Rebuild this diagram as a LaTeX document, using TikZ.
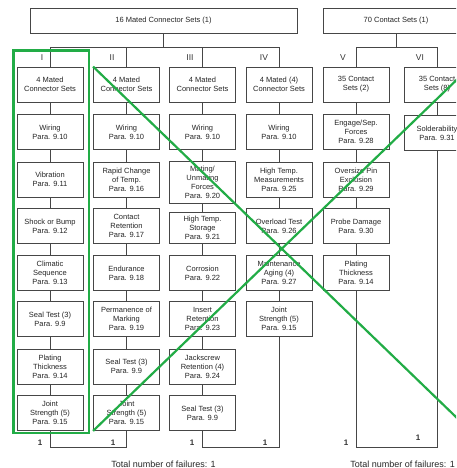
\documentclass[tikz,border=0pt]{standalone}
\usepackage{fontspec}
\setmainfont{Liberation Sans}
\usepackage{xcolor}
\definecolor{mark}{RGB}{34,172,70}
\definecolor{frame}{RGB}{70,70,70}

\begin{document}
\begin{tikzpicture}[x=1pt,y=-1pt,
		box/.style={draw=frame,fill=white,line width=0.8pt,minimum width=66pt,minimum height=35pt,inner sep=1pt,align=center,font=\fontsize{7.5}{9}\selectfont,text=black!85},
		head/.style={box,minimum height=25pt},
		group/.style={font=\fontsize{8.5}{9}\selectfont,text=black!80},
		count/.style={font=\bfseries\fontsize{8}{9}\selectfont,text=black!80},
		total/.style={font=\fontsize{9}{10}\selectfont,text=black!85},
		link/.style={draw=frame,line width=0.8pt},
		cross/.style={draw=mark,line width=2.2pt}]
			\useasboundingbox (0,0) rectangle (456,468);
			\clip (0,0) rectangle (456,468);
			
			\coordinate (h1) at (163.5,47);
			\coordinate (h2) at (396,47);
			\coordinate (b1) at (50,447);
			\coordinate (b2) at (126.5,447);
			\coordinate (b3) at (202.5,447);
			\coordinate (b4) at (279,447);
			\coordinate (b5) at (356,447);
			\coordinate (b6) at (437,447);
			
			% sample sets
			\node[head, minimum width=267pt] (t1) at (163.5,20.5) {16 Mated Connector Sets (1)};
			\node[head, minimum width=146pt] (t2) at (396,20.5) {70 Contact Sets (1)};
			
			% group I
			\node[box] (c1r1) at (50,84.5) {4 Mated\\Connector Sets};
			\node[box] (c1r2) at (50,132) {Wiring\\Para. 9.10};
			\node[box] (c1r3) at (50,179.5) {Vibration\\Para. 9.11};
			\node[box] (c1r4) at (50,226) {Shock or Bump\\Para. 9.12};
			\node[box] (c1r5) at (50,273) {Climatic\\Sequence\\Para. 9.13};
			\node[box] (c1r6) at (50,319) {Seal Test (3)\\Para. 9.9};
			\node[box] (c1r7) at (50,366.5) {Plating\\Thickness\\Para. 9.14};
			\node[box] (c1r8) at (50,413) {Joint\\Strength (5)\\Para. 9.15};
			
			% group II
			\node[box] (c2r1) at (126.5,84.5) {4 Mated\\Connector Sets};
			\node[box] (c2r2) at (126.5,132) {Wiring\\Para. 9.10};
			\node[box] (c2r3) at (126.5,179.5) {Rapid Change\\of Temp.\\Para. 9.16};
			\node[box] (c2r4) at (126.5,226) {Contact\\Retention\\Para. 9.17};
			\node[box] (c2r5) at (126.5,273) {Endurance\\Para. 9.18};
			\node[box] (c2r6) at (126.5,319) {Permanence of\\Marking\\Para. 9.19};
			\node[box] (c2r7) at (126.5,366.5) {Seal Test (3)\\Para. 9.9};
			\node[box] (c2r8) at (126.5,413) {Joint\\Strength (5)\\Para. 9.15};
			
			% group III
			\node[box] (c3r1) at (202.5,84.5) {4 Mated\\Connector Sets};
			\node[box] (c3r2) at (202.5,132) {Wiring\\Para. 9.10};
			\node[box, minimum height=42pt] (c3r3) at (202.5,182) {Mating/\\Unmating\\Forces\\Para. 9.20};
			\node[box, minimum height=31pt] (c3r4) at (202.5,228) {High Temp.\\Storage\\Para. 9.21};
			\node[box] (c3r5) at (202.5,273) {Corrosion\\Para. 9.22};
			\node[box] (c3r6) at (202.5,319) {Insert\\Retention\\Para. 9.23};
			\node[box] (c3r7) at (202.5,366.5) {Jackscrew\\Retention (4)\\Para. 9.24};
			\node[box] (c3r8) at (202.5,413) {Seal Test (3)\\Para. 9.9};
			
			% group IV
			\node[box] (c4r1) at (279,84.5) {4 Mated (4)\\Connector Sets};
			\node[box] (c4r2) at (279,132) {Wiring\\Para. 9.10};
			\node[box] (c4r3) at (279,179.5) {High Temp.\\Measurements\\Para. 9.25};
			\node[box] (c4r4) at (279,226) {Overload Test\\Para. 9.26};
			\node[box] (c4r5) at (279,273) {Maintenance\\Aging (4)\\Para. 9.27};
			\node[box] (c4r6) at (279,319) {Joint\\Strength (5)\\Para. 9.15};
			
			% group V
			\node[box] (c5r1) at (356,84.5) {35 Contact\\Sets (2)};
			\node[box] (c5r2) at (356,132) {Engage/Sep.\\Forces\\Para. 9.28};
			\node[box] (c5r3) at (356,179.5) {Oversize Pin\\Exclusion\\Para. 9.29};
			\node[box] (c5r4) at (356,226) {Probe Damage\\Para. 9.30};
			\node[box] (c5r5) at (356,273) {Plating\\Thickness\\Para. 9.14};
			
			% group VI
			\node[box] (c6r1) at (437,84.5) {35 Contact\\Sets (8)};
			\node[box] (c6r2) at (437,133) {Solderability\\Para. 9.31};
			
			% group numbers
			\node[group] (g1) at (42,58) {I};
			\node[group] (g2) at (112,58) {II};
			\node[group] (g3) at (190,58) {III};
			\node[group] (g4) at (264,58) {IV};
			\node[group] (g5) at (343,58) {V};
			\node[group] (g6) at (420,58) {VI};
			
			% failures
			\node[count] (f1) at (40,443) {1};
			\node[count] (f2) at (113,443) {1};
			\node[count] (f3) at (192,443) {1};
			\node[count] (f4) at (265,443) {1};
			\node[count] (f5) at (346,443) {1};
			\node[count] (f6) at (418,438) {1};
			\node[total] (n1) at (163.5,464) {Total number of failures: 1};
			\node[total, anchor=east, inner sep=0.5pt] (n2) at (455.5,464) {Total number of failures: 1};
			
			\draw[link] (t1) -- (h1);
			\draw[link] (c1r1) |- (h1);
			\draw[link] (c4r1) |- (h1);
			\draw[link] (c2r1) -- (c2r1 |- h1);
			\draw[link] (c3r1) -- (c3r1 |- h1);
			\draw[link] (t2) -- (h2);
			\draw[link] (c5r1) |- (h2);
			\draw[link] (c6r1) |- (h2);
			
			\draw[link] (c1r1) -- (c1r2) -- (c1r3) -- (c1r4) -- (c1r5) -- (c1r6) -- (c1r7) -- (c1r8);
			\draw[link] (c2r1) -- (c2r2) -- (c2r3) -- (c2r4) -- (c2r5) -- (c2r6) -- (c2r7) -- (c2r8);
			\draw[link] (c3r1) -- (c3r2) -- (c3r3) -- (c3r4) -- (c3r5) -- (c3r6) -- (c3r7) -- (c3r8);
			\draw[link] (c4r1) -- (c4r2) -- (c4r3) -- (c4r4) -- (c4r5) -- (c4r6);
			\draw[link] (c5r1) -- (c5r2) -- (c5r3) -- (c5r4) -- (c5r5);
			\draw[link] (c6r1) -- (c6r2);
			
			\draw[link] (c1r8) -- (b1) -- (b2) -- (c2r8);
			\draw[link] (c3r8) -- (b3) -- (b4) -- (c4r6);
			\draw[link] (c5r5) -- (b5) -- (b6) -- (c6r2);
			
			% marks
			\coordinate (xend) at (c6r1.east |- c2r8.south);
			\draw[cross] (13.5,50.5) rectangle (89,433);
			\draw[cross] (c2r1.north west) -- (xend);
			\draw[cross] (c2r8.south west) -- (c6r1.north east);
		\end{tikzpicture}
\end{document}
